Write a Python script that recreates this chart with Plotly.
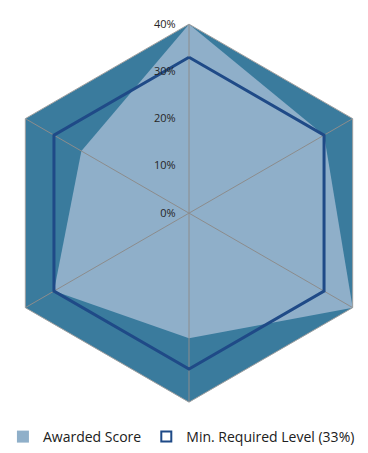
import plotly.graph_objects as go

categories = ["A", "B", "C", "D", "E", "F"]
awarded = [40, 33, 40, 26.5, 33, 26.3]
required = [33, 33, 33, 33, 33, 33]
tick_vals = [0, 10, 20, 30, 40]
tick_text = ["0%", "10%", "20%", "30%", "40%"]

BG = "#3a7b9d"
LIGHT = "#8fafc9"
DARK = "#1f4a87"
GRID = "#8c8c8c"

fig = go.Figure()
fig.add_trace(go.Scatterpolar(
    r=awarded + awarded[:1], theta=categories + categories[:1],
    mode="lines", fill="toself", fillcolor=LIGHT, line=dict(width=0, color=LIGHT),
    showlegend=False, hoverinfo="skip"))
# spokes on top
for c in categories:
    fig.add_trace(go.Scatterpolar(r=[0, tick_vals[-1]], theta=[c, c], mode="lines",
                                  line=dict(color=GRID, width=1), showlegend=False,
                                  hoverinfo="skip"))
fig.add_trace(go.Scatterpolar(
    r=required + required[:1], theta=categories + categories[:1],
    mode="lines", line=dict(width=3, color=DARK),
    showlegend=False, hoverinfo="skip"))
# legend entries
fig.add_trace(go.Scatterpolar(r=[None], theta=[categories[0]], mode="markers",
                              marker=dict(symbol="square", size=12, color=LIGHT),
                              name="Awarded Score"))
fig.add_trace(go.Scatterpolar(r=[None], theta=[categories[0]], mode="markers",
                              marker=dict(symbol="square-open", size=10, color=DARK,
                                          line=dict(width=2)),
                              name="Min. Required Level (33%)"))

fig.update_layout(
    width=378, height=453,
    margin=dict(l=0, r=0, t=0, b=0),
    paper_bgcolor="white",
    font=dict(family="Open Sans", color="#262626"),
    polar=dict(
        domain=dict(x=[0, 1], y=[0.0548, 1.0]),
        bgcolor=BG,
        gridshape="linear",
        radialaxis=dict(range=[0, 40], tickvals=tick_vals, ticktext=tick_text,
                        angle=90, tickangle=90, side="counterclockwise",
                        showgrid=False, showline=False, ticks="outside", ticklen=9,
                        tickcolor="rgba(0,0,0,0)",
                        tickfont=dict(size=11, color="#262626"), layer="above traces"),
        angularaxis=dict(direction="clockwise", rotation=90, showticklabels=False,
                         ticks="", showgrid=False, showline=True, linecolor="#a0a0a0",
                         linewidth=1),
    ),
    legend=dict(orientation="h", x=0.48, xanchor="center", y=0.03, yanchor="middle",
                font=dict(size=14, color="#202020"), itemwidth=30),
)
fig.write_html("out.html")
